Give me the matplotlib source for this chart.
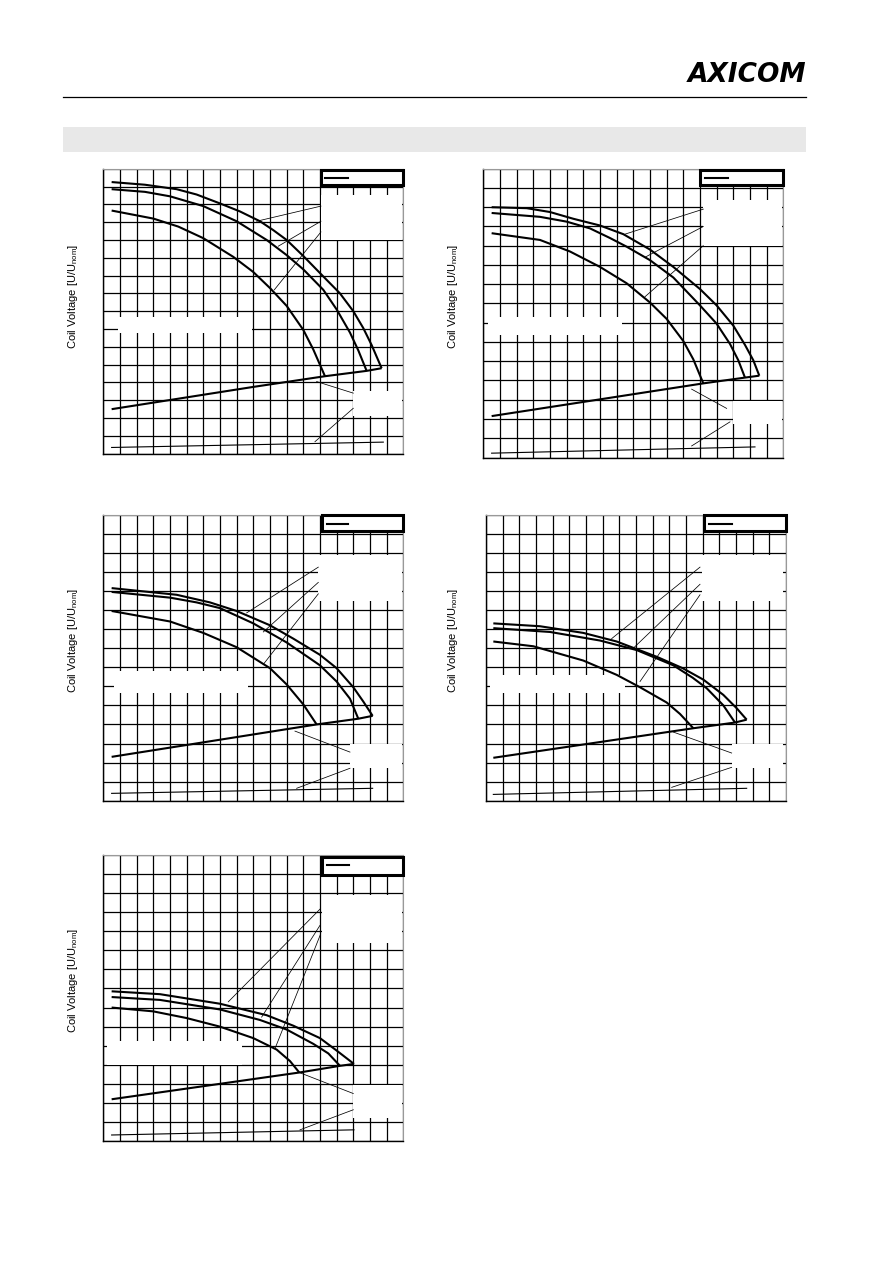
import matplotlib
matplotlib.use("Agg")
import matplotlib.pyplot as plt
from matplotlib.patches import Rectangle
from matplotlib.lines import Line2D
import numpy as np

plt.rcParams['font.family'] = ['Liberation Sans', 'DejaVu Sans']
plt.rcParams['mathtext.default'] = 'regular'

# ---------------- data (ambient temperature °C / coil voltage U/Unom) ----------------
# Chart 1
c1_temp_a = [-35, -15, 4, 16, 30, 42, 54, 62, 70, 80, 92, 102, 110, 116, 121, 127]
c1_volt_a = [3.05, 3.02, 2.97, 2.91, 2.81, 2.72, 2.61, 2.51, 2.40, 2.22, 1.99, 1.80, 1.60, 1.41, 1.22, 0.96]
c1_temp_b = [-35, -15, 0, 20, 40, 58, 70, 80, 92, 100, 108, 113, 118]
c1_volt_b = [2.97, 2.94, 2.89, 2.78, 2.61, 2.40, 2.23, 2.07, 1.84, 1.62, 1.36, 1.16, 0.93]
c1_temp_c = [-35, -10, 5, 20, 38, 50, 60, 70, 80, 86, 93]
c1_volt_c = [2.73, 2.64, 2.55, 2.42, 2.21, 2.04, 1.86, 1.66, 1.39, 1.17, 0.87]
c1_temp_min = [-35, 50, 93, 118, 127]
c1_volt_min = [0.50, 0.75, 0.87, 0.93, 0.96]
c1_temp_rel = [-35, 128]
c1_volt_rel = [0.07, 0.13]

# Chart 2
c2_temp_a = [-35, -14, 0, 14, 30, 44, 60, 74, 90, 100, 110, 117, 122, 125.6]
c2_volt_a = [2.60, 2.59, 2.55, 2.48, 2.41, 2.32, 2.16, 1.98, 1.75, 1.58, 1.37, 1.17, 1.01, 0.85]
c2_temp_b = [-35, -6, 10, 24, 36, 46, 60, 74, 90, 100, 108, 113, 117]
c2_volt_b = [2.54, 2.50, 2.45, 2.38, 2.28, 2.19, 2.05, 1.87, 1.58, 1.39, 1.18, 1.01, 0.83]
c2_temp_c = [-35, -6, 12, 30, 46, 60, 70, 80, 86, 92]
c2_volt_c = [2.33, 2.26, 2.14, 1.98, 1.81, 1.61, 1.44, 1.21, 1.02, 0.77]
c2_temp_min = [-35, 92, 117, 125.6]
c2_volt_min = [0.43, 0.77, 0.83, 0.85]
c2_temp_rel = [-35, 123]
c2_volt_rel = [0.045, 0.11]

# Chart 3
c3_temp_a = [-35, 4, 24, 40, 60, 74, 90, 100, 110, 116, 121.6]
c3_volt_a = [2.23, 2.16, 2.08, 1.99, 1.84, 1.70, 1.53, 1.39, 1.19, 1.04, 0.89]
c3_temp_b = [-35, 0, 16, 30, 50, 70, 90, 100, 108, 113]
c3_volt_b = [2.19, 2.13, 2.08, 2.02, 1.86, 1.66, 1.42, 1.25, 1.07, 0.86]
c3_temp_c = [-35, 0, 20, 40, 60, 70, 80, 88]
c3_volt_c = [1.99, 1.88, 1.76, 1.61, 1.39, 1.22, 1.01, 0.80]
c3_temp_min = [-35, 88, 113, 121.6]
c3_volt_min = [0.46, 0.80, 0.86, 0.89]
c3_temp_rel = [-35, 121.6]
c3_volt_rel = [0.077, 0.13]

# Chart 4
c4_temp_a = [-35.6, -7.6, 18.4, 38.4, 62.4, 78, 90.4, 102.4, 110.4, 116.4]
c4_volt_a = [1.86, 1.83, 1.76, 1.67, 1.51, 1.39, 1.27, 1.11, 0.97, 0.85]
c4_temp_b = [-35.6, -1.6, 28.4, 50.4, 72.4, 84, 92.4, 102.4, 109.4]
c4_volt_b = [1.81, 1.77, 1.68, 1.58, 1.42, 1.29, 1.18, 1.00, 0.82]
c4_temp_c = [-35.6, -11.6, 18.4, 38.4, 52.4, 68.4, 76.4, 84.4]
c4_volt_c = [1.67, 1.62, 1.47, 1.32, 1.19, 1.03, 0.91, 0.76]
c4_temp_min = [-35.6, 84.4, 109.4, 116.4]
c4_volt_min = [0.45, 0.76, 0.82, 0.85]
c4_temp_rel = [-35.6, 116.4]
c4_volt_rel = [0.066, 0.13]

# Chart 5
c5_temp_a = [-35, -6, 30, 58, 74, 90, 100, 110.4]
c5_volt_a = [1.57, 1.54, 1.44, 1.32, 1.21, 1.08, 0.95, 0.81]
c5_temp_b = [-35, -6, 30, 54, 70, 86, 95, 102]
c5_volt_b = [1.51, 1.48, 1.38, 1.27, 1.17, 1.02, 0.92, 0.79]
c5_temp_c = [-35, -10, 10, 30, 50, 64, 72, 77.6]
c5_volt_c = [1.40, 1.36, 1.29, 1.20, 1.08, 0.96, 0.84, 0.72]
c5_temp_min = [-35, 77.6, 102, 110.4]
c5_volt_min = [0.44, 0.72, 0.79, 0.81]
c5_temp_rel = [-35, 110.4]
c5_volt_rel = [0.066, 0.12]

x_ticks = list(range(-40, 141, 10))
y_label = r'Coil Voltage [U/U$_{nom}$]'
logo_text = 'AXICOM'

charts = [
    dict(a=(c1_temp_a, c1_volt_a), b=(c1_temp_b, c1_volt_b), c=(c1_temp_c, c1_volt_c),
         mn=(c1_temp_min, c1_volt_min), rel=(c1_temp_rel, c1_volt_rel), rows=16),
    dict(a=(c2_temp_a, c2_volt_a), b=(c2_temp_b, c2_volt_b), c=(c2_temp_c, c2_volt_c),
         mn=(c2_temp_min, c2_volt_min), rel=(c2_temp_rel, c2_volt_rel), rows=15),
    dict(a=(c3_temp_a, c3_volt_a), b=(c3_temp_b, c3_volt_b), c=(c3_temp_c, c3_volt_c),
         mn=(c3_temp_min, c3_volt_min), rel=(c3_temp_rel, c3_volt_rel), rows=15),
    dict(a=(c4_temp_a, c4_volt_a), b=(c4_temp_b, c4_volt_b), c=(c4_temp_c, c4_volt_c),
         mn=(c4_temp_min, c4_volt_min), rel=(c4_temp_rel, c4_volt_rel), rows=15),
    dict(a=(c5_temp_a, c5_volt_a), b=(c5_temp_b, c5_volt_b), c=(c5_temp_c, c5_volt_c),
         mn=(c5_temp_min, c5_volt_min), rel=(c5_temp_rel, c5_volt_rel), rows=15),
]

# ---------------- layout (pixels / data-space boxes) ----------------
W, H = 892, 1261
layout = [
    dict(px=(103.3, 403.3, 168.7, 453.7),
         legend=(90.6, 140, 3.02, 3.19), legline=(93, 107, 3.10),
         upper=(90.6, 139, 2.40, 2.91), lower=(110, 139, 0.42, 0.70), left=(-31, 49.5, 1.35, 1.53),
         leaders=[((52, 2.61), (90.6, 2.78)), ((65, 2.33), (90.6, 2.61)), ((62.6, 1.84), (90.6, 2.49)),
                  ((88, 0.81), (110, 0.68)), ((87, 0.135), (110, 0.51))],
         lab=(-0.078, 0.552)),
    dict(px=(483.3, 783.3, 168.7, 457.5),
         legend=(90, 140, 2.83, 2.99), legline=(93, 107, 2.90),
         upper=(92, 139, 2.20, 2.68), lower=(110, 139, 0.35, 0.59), left=(-37.4, 43, 1.27, 1.46),
         leaders=[((45, 2.32), (92, 2.58)), ((57, 2.08), (92, 2.40)), ((57, 1.67), (92, 2.20)),
                  ((85, 0.71), (106, 0.51)), ((85, 0.12), (108, 0.37))],
         lab=(-0.078, 0.559)),
    dict(px=(103.3, 403.3, 514.7, 800.7),
         legend=(91, 140, 2.83, 2.996), legline=(94, 107, 2.90),
         upper=(89, 139, 2.09, 2.58), lower=(108, 139, 0.34, 0.59), left=(-33.4, 47, 1.13, 1.36),
         leaders=[((46, 1.97), (89, 2.45)), ((56, 1.77), (89, 2.29)), ((56, 1.43), (89, 2.17)),
                  ((75, 0.73), (108, 0.51)), ((76, 0.13), (108, 0.34))],
         lab=(-0.078, 0.562)),
    dict(px=(486, 786, 514.7, 800.7),
         legend=(91, 140, 2.83, 2.996), legline=(94, 107.4, 2.90),
         upper=(89.4, 138.4, 2.09, 2.58), lower=(107.4, 138.4, 0.34, 0.59), left=(-37.5, 43.4, 1.13, 1.32),
         leaders=[((35.4, 1.70), (88.4, 2.45)), ((48.4, 1.60), (88.4, 2.27)), ((52.4, 1.25), (88.4, 2.16)),
                  ((72.4, 0.72), (107.4, 0.50)), ((71.4, 0.14), (107.4, 0.35))],
         lab=(-0.087, 0.562)),
    dict(px=(103.3, 403.3, 854.7, 1141.3),
         legend=(91, 140, 2.79, 2.98), legline=(94, 107.6, 2.89),
         upper=(91, 139, 2.08, 2.58), lower=(110, 139, 0.24, 0.59), left=(-38, 43, 0.80, 1.05),
         leaders=[((35, 1.46), (90, 2.43)), ((55, 1.30), (90, 2.26)), ((63, 0.97), (90.4, 2.17)),
                  ((77.6, 0.72), (110, 0.50)), ((78, 0.12), (110, 0.33))],
         lab=(-0.078, 0.561)),
]

fig = plt.figure(figsize=(W / 100, H / 100), dpi=100)
fig.patch.set_facecolor('white')

# header
fig.text(806 / W, 1 - 75 / H, logo_text, ha='right', va='center', fontsize=19,
         fontweight='heavy', fontstyle='italic', family='DejaVu Sans', color='black')
fig.add_artist(Line2D([63 / W, 806 / W], [1 - 97 / H, 1 - 97 / H], transform=fig.transFigure,
                      color='black', lw=0.9))
fig.add_artist(Rectangle((63 / W, 1 - 152 / H), (806 - 63) / W, 25 / H, transform=fig.transFigure,
                         facecolor='#e8e8e8', edgecolor='none'))

for ch, lo in zip(charts, layout):
    l, r, t, b = lo['px']
    ax = fig.add_axes([l / W, 1 - b / H, (r - l) / W, (b - t) / H])
    ymax = 0.2 * ch['rows']
    ax.set_xlim(-40, 140)
    ax.set_ylim(0, ymax)
    ax.set_xticks(x_ticks)
    ax.set_yticks(np.linspace(0, ymax, ch['rows'] + 1))
    ax.tick_params(length=0, labelleft=False, labelbottom=False)
    ax.grid(True, color='black', lw=0.9, zorder=1)
    ax.set_axisbelow(True)
    for s in ('left', 'bottom'):
        ax.spines[s].set_color('black')
        ax.spines[s].set_linewidth(1.0)
    for s in ('top', 'right'):
        ax.spines[s].set_color('#999999')
        ax.spines[s].set_linewidth(0.8)

    # white label areas
    for key in ('upper', 'lower', 'left'):
        x0, x1, y0, y1 = lo[key]
        ax.add_patch(Rectangle((x0, y0), x1 - x0, y1 - y0, facecolor='white',
                               edgecolor='none', zorder=2))

    # curves
    for key in ('a', 'b', 'c', 'mn'):
        xs, ys = ch[key]
        ax.plot(xs, ys, color='black', lw=1.5, zorder=3, solid_joinstyle='round',
                solid_capstyle='butt')
    xs, ys = ch['rel']
    ax.plot(xs, ys, color='black', lw=0.8, zorder=3)

    # leader lines
    for (p0, p1) in lo['leaders']:
        ax.plot([p0[0], p1[0]], [p0[1], p1[1]], color='black', lw=0.55, zorder=3)

    # legend frame
    x0, x1, y0, y1 = lo['legend']
    ax.add_patch(Rectangle((x0, y0), x1 - x0, y1 - y0, facecolor='white', edgecolor='black',
                           lw=2.2, zorder=5, clip_on=False))
    lx0, lx1, ly = lo['legline']
    ax.plot([lx0, lx1], [ly, ly], color='black', lw=1.5, zorder=6, clip_on=False)

    ax.set_ylabel(y_label, fontsize=8)
    ax.yaxis.set_label_coords(*lo['lab'])

fig.savefig('out.png', dpi=100, facecolor='white')
